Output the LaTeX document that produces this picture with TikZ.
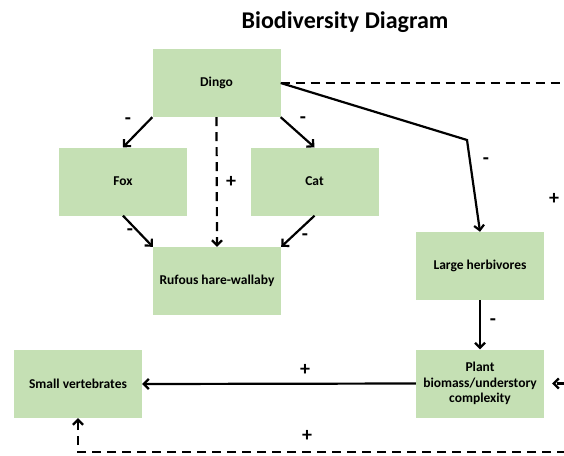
\documentclass[tikz,border=0pt]{standalone}
\usepackage{fontspec}
\setmainfont{Carlito}
\usetikzlibrary{arrows.meta,calc}
\definecolor{boxgreen}{HTML}{C5E0B4}
\tikzstyle{species}=[fill=boxgreen,minimum width=128pt,minimum height=68pt,inner sep=2pt,align=center,font=\fontsize{13.5}{15.5}\selectfont\bfseries]
\tikzstyle{effect}=[-{Straight Barb[length=5pt,width=10pt]},line width=2.2pt]
\tikzstyle{indirect}=[effect,dash pattern=on 9pt off 6pt]
\tikzstyle{sign}=[font=\fontsize{20}{20}\selectfont\bfseries,inner sep=0pt]

\begin{document}
\begin{tikzpicture}[x=1pt,y=-1pt] % y runs down, 1pt per pixel
\useasboundingbox (0,0) rectangle (564,455);
\node[font=\fontsize{24}{28}\selectfont\bfseries] (title) at (345,22) {Biodiversity Diagram};

% boxes
\node[species] (dingo) at (216.5,83) {Dingo};
\node[species] (fox) at (123,181.5) {Fox};
\node[species] (cat) at (314.5,181.5) {Cat};
\node[species] (wallaby) at (217,281) {Rufous hare-wallaby};
\node[species] (herbivores) at (480,266) {Large herbivores};
\node[species] (plant) at (480,383.5) {Plant\\biomass/understory\\complexity};
\node[species] (smallvert) at (78,384) {Small vertebrates};

% points on the right edge (loop leaves the picture)
\coordinate (bend) at (467,140);
\coordinate (edgetop) at (566,83);
\coordinate (edgemid) at (566,383.5);
\coordinate (edgebot) at (566,452);

% predation
\draw[effect] (dingo.south west) -- (fox.north);
\draw[effect] (dingo.south east) -- (cat.north);
\draw[indirect] (dingo.south) -- (wallaby.north);
\draw[effect] (fox.south) -- (wallaby.north west);
\draw[effect] (cat.south) -- (wallaby.north east);
\draw[effect] (dingo.east) -- (bend) -- (herbivores.north);
\draw[effect] (herbivores.south) -- (plant.north);
\draw[effect] (plant.west) -- (smallvert.east);

% indirect loop
\draw[line width=2.2pt,dash pattern=on 9pt off 6pt] (dingo.east) -- (edgetop);
\draw[indirect,shorten >=8pt] (edgemid) -- (plant.east);
\draw[indirect] (edgebot) -| (smallvert.south);

% signs
\node[sign] (s1) at (128,121) {-};
\node[sign] (s2) at (303,120) {-};
\node[sign] (s3) at (231,182) {+};
\node[sign] (s4) at (130,232) {-};
\node[sign] (s5) at (305,237) {-};
\node[sign] (s6) at (486,161) {-};
\node[sign] (s7) at (554,199) {+};
\node[sign] (s8) at (493,322) {-};
\node[sign] (s9) at (305,370) {+};
\node[sign] (s10) at (307,436) {+};
\end{tikzpicture}
\end{document}
